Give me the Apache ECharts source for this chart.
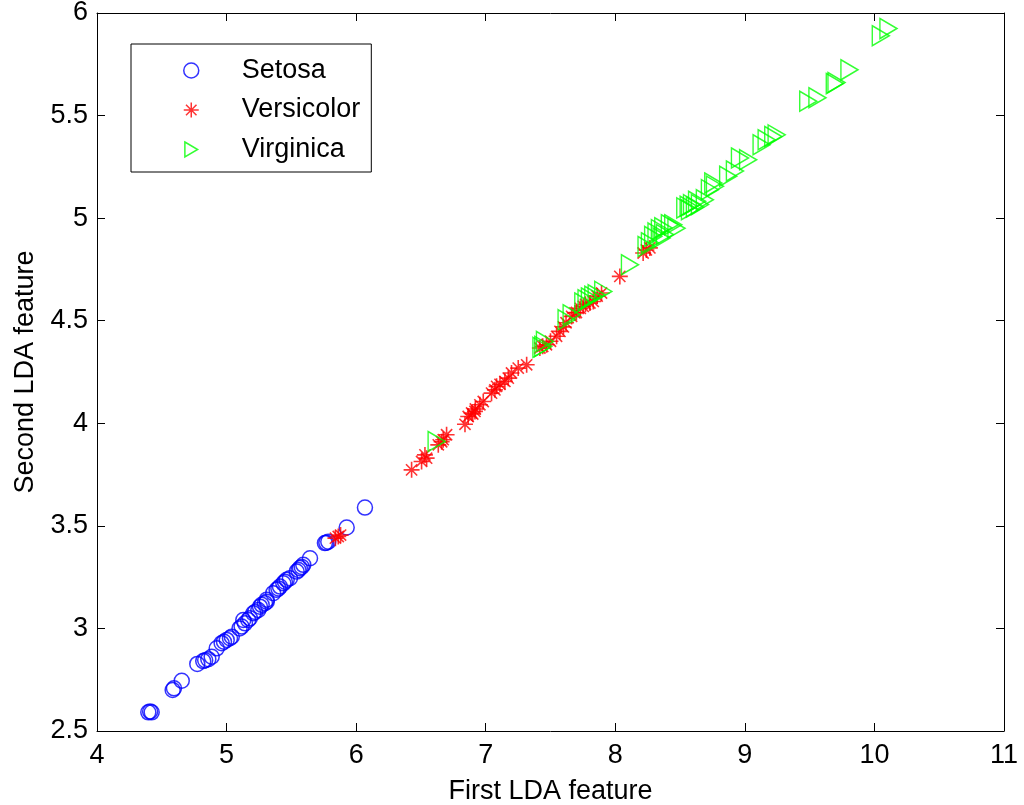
<!DOCTYPE html>
<html>
<head>
<meta charset="utf-8">
<script src="https://cdn.jsdelivr.net/npm/echarts@6/dist/echarts.min.js"></script>
<style>html,body{margin:0;padding:0;background:#fff}#c{width:1024px;height:805px}</style>
</head>
<body>
<div id="c"></div>
<script>
var xTicks = [4, 5, 6, 7, 8, 9, 10, 11];
var yTicks = ['2.5', '3', '3.5', '4', '4.5', '5', '5.5', '6'];
var seriesNames = ['Setosa', 'Versicolor', 'Virginica'];

var setosa = [
  [4.396,2.591],[4.422,2.591],[4.410,2.595],
  [4.584,2.700],[4.594,2.708],[4.654,2.745],
  [4.774,2.827],[4.820,2.841],[4.835,2.845],[4.859,2.850],[4.885,2.862],
  [4.924,2.903],[4.962,2.928],[4.980,2.935],[5.001,2.944],[5.026,2.952],[5.040,2.960],
  [5.100,3.000],[5.116,3.009],[5.129,3.041],[5.142,3.025],[5.167,3.041],[5.180,3.050],
  [5.206,3.074],[5.220,3.080],[5.245,3.090],[5.258,3.106],[5.271,3.115],[5.296,3.123],[5.310,3.130],
  [5.360,3.172],[5.386,3.188],[5.400,3.195],[5.412,3.204],[5.438,3.220],[5.450,3.228],[5.464,3.237],[5.489,3.245],
  [5.541,3.277],[5.555,3.285],[5.566,3.294],[5.580,3.300],[5.592,3.310],[5.644,3.342],
  [5.759,3.416],[5.785,3.423],[5.770,3.418],[5.927,3.492],[6.068,3.589],[5.310,3.140]
];
var versicolor = [
  [5.840,3.440],[5.862,3.448],[5.880,3.455],
  [6.428,3.773],[6.505,3.814],[6.531,3.846],[6.544,3.830],
  [6.634,3.895],[6.672,3.920],[6.698,3.944],[6.660,3.910],
  [6.840,3.995],[6.865,4.033],[6.891,4.050],[6.900,4.045],[6.917,4.058],[6.955,4.090],[6.981,4.106],
  [7.045,4.147],[7.071,4.163],[7.084,4.180],[7.148,4.204],[7.174,4.220],[7.199,4.245],[7.251,4.269],[7.316,4.285],
  [7.418,4.367],[7.440,4.375],[7.469,4.383],[7.500,4.400],[7.547,4.424],[7.573,4.448],
  [7.663,4.521],[7.688,4.538],[7.700,4.540],[7.753,4.570],[7.770,4.580],[7.804,4.586],[7.830,4.594],[7.860,4.620],[7.894,4.635],
  [8.035,4.716],[8.215,4.830],[8.267,4.855],[8.240,4.845],
  [7.600,4.470],[7.620,4.490],[7.730,4.560],[6.920,4.070],[7.110,4.190]
];
var virginica = [
  [6.621,3.911],
  [7.430,4.370],[7.444,4.375],[7.457,4.399],
  [7.624,4.505],[7.663,4.529],
  [7.753,4.586],[7.778,4.602],[7.804,4.611],[7.830,4.619],[7.856,4.627],[7.907,4.643],
  [8.113,4.773],
  [8.241,4.862],[8.267,4.880],[8.292,4.911],[8.318,4.928],[8.344,4.944],[8.357,4.903],[8.370,4.953],[8.383,4.920],[8.421,4.968],[8.447,4.968],[8.472,4.951],
  [8.540,5.050],[8.566,5.058],[8.576,5.041],[8.592,5.066],[8.614,5.054],[8.631,5.082],[8.653,5.066],[8.691,5.090],
  [8.730,5.139],[8.756,5.171],[8.769,5.156],
  [8.871,5.204],[8.923,5.230],[8.962,5.293],[9.025,5.285],
  [9.129,5.358],[9.168,5.382],[9.219,5.398],[9.245,5.406],
  [9.489,5.570],[9.560,5.587],[9.694,5.656],[9.707,5.661],[9.807,5.723],[10.049,5.889],[10.108,5.924]
];

var FONT = 'Liberation Sans, Arial, Helvetica, sans-serif';
var FS = 27;
var STAR = 'path://M10,0L10,20M0,10L20,10M3,3L17,17M3,17L17,3';
var TRI = 'path://M0,0L17,10L0,20Z';

var chart = echarts.init(document.getElementById('c'), null, {renderer: 'canvas'});

function axisCommon(showLabels, margin) {
  return {
    axisLine: {show: true, onZero: false, lineStyle: {color: '#000', width: 1}},
    axisTick: {show: true, inside: true, length: 8, lineStyle: {color: '#000', width: 1}},
    splitLine: {show: false},
    axisLabel: {show: showLabels, color: '#000', fontFamily: FONT, fontSize: FS, margin: margin || 8}
  };
}

var option = {
  backgroundColor: '#fff',
  animation: false,
  grid: {left: 97, right: 20, top: 13, bottom: 74, containLabel: false, outerBoundsMode: 'none'},
  legend: {
    orient: 'vertical',
    left: 131, top: 44,
    backgroundColor: '#fff',
    borderColor: '#000', borderWidth: 1, borderRadius: 0,
    padding: [13, 11, 9, 52],
    itemWidth: 15, itemHeight: 15, itemGap: 12.5,
    textStyle: {fontFamily: FONT, fontSize: FS, color: '#000', padding: [0, 0, 0, 38], lineHeight: 24},
    itemStyle: {borderWidth: 1.5},
    data: [
      {name: seriesNames[0], icon: 'circle'},
      {name: seriesNames[1], icon: STAR},
      {name: seriesNames[2], icon: TRI}
    ]
  },
  xAxis: [
    Object.assign({
      type: 'value', position: 'bottom', min: xTicks[0], max: xTicks[xTicks.length - 1], interval: 1,
      name: 'First LDA feature', nameLocation: 'middle', nameGap: 47,
      nameTextStyle: {fontFamily: FONT, fontSize: FS, color: '#000'}
    }, axisCommon(true, 11)),
    Object.assign({
      type: 'value', position: 'top', min: xTicks[0], max: xTicks[xTicks.length - 1], interval: 1
    }, axisCommon(false))
  ],
  yAxis: [
    Object.assign({
      type: 'value', position: 'left', min: parseFloat(yTicks[0]), max: parseFloat(yTicks[yTicks.length - 1]), interval: 0.5,
      name: 'Second LDA feature', nameLocation: 'middle', nameGap: 58,
      nameTextStyle: {fontFamily: FONT, fontSize: FS, color: '#000'}
    }, axisCommon(true, 9)),
    Object.assign({
      type: 'value', position: 'right', min: parseFloat(yTicks[0]), max: parseFloat(yTicks[yTicks.length - 1]), interval: 0.5
    }, axisCommon(false))
  ],
  series: [
    {
      name: seriesNames[0], type: 'scatter', data: setosa,
      symbol: 'circle', symbolSize: 15,
      itemStyle: {color: 'transparent', borderColor: '#0000ff', borderWidth: 1.5}
    },
    {
      name: seriesNames[1], type: 'scatter', data: versicolor,
      symbol: STAR, symbolSize: 16,
      itemStyle: {color: 'transparent', borderColor: '#ff0000', borderWidth: 1.6}
    },
    {
      name: seriesNames[2], type: 'scatter', data: virginica,
      symbol: TRI, symbolSize: [17, 20],
      itemStyle: {color: 'transparent', borderColor: '#00ff00', borderWidth: 1.5}
    }
  ]
};
chart.setOption(option);
</script>
</body>
</html>
